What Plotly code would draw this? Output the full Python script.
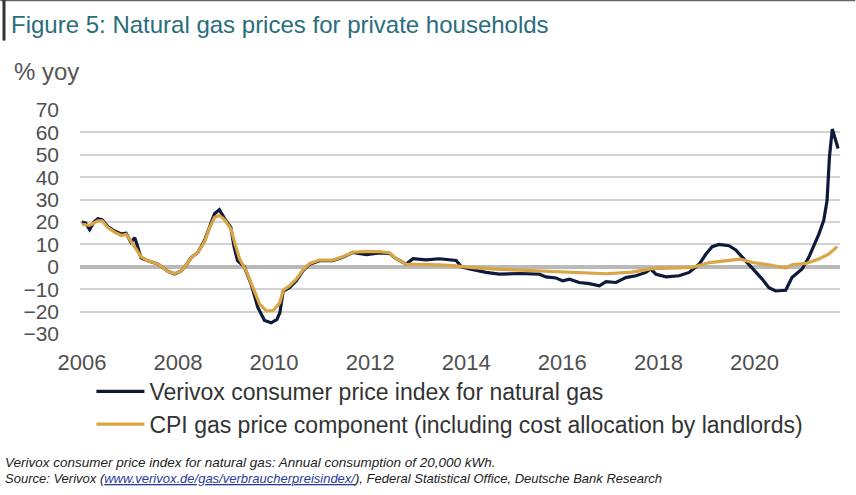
import plotly.graph_objects as go

# Verivox consumer price index for natural gas, % yoy (decimal year, value)
verivox_t = [2006.00, 2006.08, 2006.16, 2006.25, 2006.33, 2006.42, 2006.54, 2006.68, 2006.82, 2006.92,
             2007.02, 2007.10, 2007.16, 2007.23, 2007.37, 2007.58, 2007.79, 2007.93, 2008.06, 2008.16,
             2008.27, 2008.41, 2008.55, 2008.65, 2008.76, 2008.86, 2008.97, 2009.10, 2009.17, 2009.24,
             2009.38, 2009.52, 2009.66, 2009.80, 2009.94, 2010.06, 2010.12, 2010.19, 2010.32, 2010.46,
             2010.60, 2010.74, 2010.95, 2011.22, 2011.43, 2011.64, 2011.92, 2012.20, 2012.40, 2012.54,
             2012.75, 2012.89, 2013.16, 2013.44, 2013.65, 2013.79, 2013.90, 2014.07, 2014.41, 2014.69,
             2015.10, 2015.52, 2015.66, 2015.87, 2016.01, 2016.15, 2016.35, 2016.56, 2016.77, 2016.91,
             2017.12, 2017.32, 2017.53, 2017.74, 2017.84, 2017.95, 2018.16, 2018.43, 2018.64, 2018.85,
             2018.99, 2019.12, 2019.26, 2019.47, 2019.61, 2019.75, 2019.96, 2020.16, 2020.30, 2020.44,
             2020.65, 2020.78, 2020.99, 2021.13, 2021.34, 2021.44, 2021.51, 2021.56, 2021.62, 2021.69,
             2021.74]
verivox_v = [20.0, 19.5, 16.6, 20.0, 21.5, 21.0, 18.0, 16.0, 14.7, 15.0,
             11.0, 13.0, 9.0, 4.0, 2.7, 1.3, -2.0, -3.2, -2.0, 0.4,
             4.0, 6.4, 11.6, 17.6, 23.7, 25.5, 21.5, 17.6, 8.7, 2.7,
             0.0, -7.6, -18.0, -24.0, -25.0, -23.5, -20.5, -10.8, -9.3, -6.3,
             -1.8, 1.2, 2.7, 2.7, 4.2, 6.4, 5.4, 6.2, 6.0, 3.6,
             1.2, 3.6, 3.1, 3.6, 3.0, 2.8, 0.0, -1.0, -2.5, -3.3,
             -3.0, -3.3, -4.5, -5.0, -6.3, -5.5, -7.0, -7.5, -8.5, -6.6,
             -7.0, -4.8, -4.0, -2.5, -1.0, -3.3, -4.5, -4.0, -2.5, 1.2,
             5.7, 9.0, 10.0, 9.4, 7.5, 4.2, -1.0, -5.5, -9.3, -10.8,
             -10.5, -4.8, -1.0, 4.2, 14.6, 20.6, 29.5, 49.0, 61.5, 56.5,
             52.8]

# CPI gas price component incl. cost allocation by landlords, % yoy
cpi_t = [2006.00, 2006.16, 2006.33, 2006.42, 2006.54, 2006.68, 2006.82, 2006.92, 2007.02, 2007.16,
         2007.23, 2007.37, 2007.58, 2007.79, 2007.93, 2008.06, 2008.16, 2008.27, 2008.41, 2008.55,
         2008.65, 2008.76, 2008.86, 2008.97, 2009.10, 2009.17, 2009.28, 2009.42, 2009.56, 2009.70,
         2009.84, 2009.98, 2010.12, 2010.19, 2010.32, 2010.46, 2010.60, 2010.74, 2010.95, 2011.22,
         2011.43, 2011.64, 2011.92, 2012.20, 2012.40, 2012.54, 2012.75, 2012.89, 2013.16, 2013.44,
         2013.79, 2014.07, 2014.60, 2015.10, 2015.60, 2016.15, 2016.91, 2017.45, 2017.86, 2018.42,
         2018.70, 2019.06, 2019.60, 2019.70, 2019.96, 2020.30, 2020.65, 2020.78, 2021.07, 2021.34,
         2021.55, 2021.72]
cpi_v = [19.0, 18.5, 20.5, 20.5, 17.5, 15.5, 14.0, 14.5, 11.5, 7.0,
         4.5, 2.7, 1.3, -2.0, -3.0, -2.0, 0.4, 4.0, 6.4, 11.0,
         17.0, 22.0, 23.0, 21.0, 17.0, 11.6, 3.6, -1.8, -9.3, -16.7,
         -19.7, -19.5, -16.0, -10.5, -8.5, -5.5, -1.5, 1.5, 3.0, 3.0,
         4.5, 6.5, 6.9, 6.8, 6.3, 3.6, 1.2, 1.2, 1.0, 0.9,
         0.4, -0.3, -1.0, -1.5, -1.8, -2.4, -3.1, -2.4, -0.8, -0.5,
         -0.3, 1.9, 3.0, 3.4, 1.9, 0.9, -0.6, 0.9, 1.5, 3.5,
         5.7, 9.0]

year_ticks = [2006, 2008, 2010, 2012, 2014, 2016, 2018, 2020]
value_ticks = [70, 60, 50, 40, 30, 20, 10, 0, -10, -20, -30]

FONT = "Liberation Sans, Arial, sans-serif"
NAVY = "#0e1a3c"
GOLD = "#d9a545"

fig = go.Figure()
fig.add_trace(go.Scatter(x=verivox_t, y=verivox_v, mode="lines",
                         name="Verivox consumer price index for natural gas",
                         line=dict(color=NAVY, width=3.2)))
fig.add_trace(go.Scatter(x=cpi_t, y=cpi_v, mode="lines",
                         name="CPI gas price component (including cost allocation by landlords)",
                         line=dict(color=GOLD, width=3.2)))

fig.update_layout(
    width=856, height=495,
    margin=dict(l=80, r=16, t=110, b=161),
    paper_bgcolor="white", plot_bgcolor="white",
    font=dict(family=FONT, color="#444"),
    showlegend=True,
    legend=dict(x=0.015, y=-0.16, xanchor="left", yanchor="top",
                font=dict(size=23, color="#333", family=FONT),
                bgcolor="rgba(0,0,0,0)", tracegroupgap=0, itemwidth=48),
    xaxis=dict(range=[2005.96, 2021.78], tickvals=year_ticks,
               ticktext=[str(y) for y in year_ticks],
               showgrid=False, zeroline=False, showline=False, ticks="",
               tickfont=dict(size=22, color="#505050"), ticklabelstandoff=13),
    yaxis=dict(range=[-30, 70], tickvals=value_ticks,
               showgrid=True, gridcolor="#d2d2d2", gridwidth=2,
               zeroline=True, zerolinecolor="#b9b9b9", zerolinewidth=4,
               showline=False, ticks="",
               tickfont=dict(size=21, color="#505050"), ticklabelstandoff=20),
)

# header frame: top rule and left accent bar
fig.add_shape(type="line", xref="paper", yref="paper", x0=-0.105, x1=1.02,
              y0=1.49, y1=1.49, line=dict(color="#666", width=2))
fig.add_shape(type="line", xref="paper", yref="paper", x0=-0.1, x1=-0.1,
              y0=1.49, y1=1.31, line=dict(color="#333", width=3))

fig.add_annotation(text="Figure 5: Natural gas prices for private households",
                   xref="paper", yref="paper", x=-0.093, y=1.38,
                   xanchor="left", yanchor="middle", showarrow=False,
                   font=dict(size=24, color="#2a6d7c", family=FONT))
fig.add_annotation(text="% yoy", xref="paper", yref="paper", x=-0.09, y=1.17,
                   xanchor="left", yanchor="middle", showarrow=False,
                   font=dict(size=24, color="#555", family=FONT))

fig.add_annotation(
    text="<i>Verivox consumer price index for natural gas: Annual consumption of 20,000 kWh.</i>",
    xref="paper", yref="paper", x=-0.101, y=-0.575, xanchor="left", yanchor="middle",
    showarrow=False, font=dict(size=13.5, color="#222", family=FONT))
fig.add_annotation(
    text="<i>Source: Verivox (<span style='color:#2b3b9a'><u>www.verivox.de/gas/verbraucherpreisindex/</u></span>), "
         "Federal Statistical Office, Deutsche Bank Research</i>",
    xref="paper", yref="paper", x=-0.101, y=-0.645, xanchor="left", yanchor="middle",
    showarrow=False, font=dict(size=13, color="#222", family=FONT))

fig.write_html("out.html")
